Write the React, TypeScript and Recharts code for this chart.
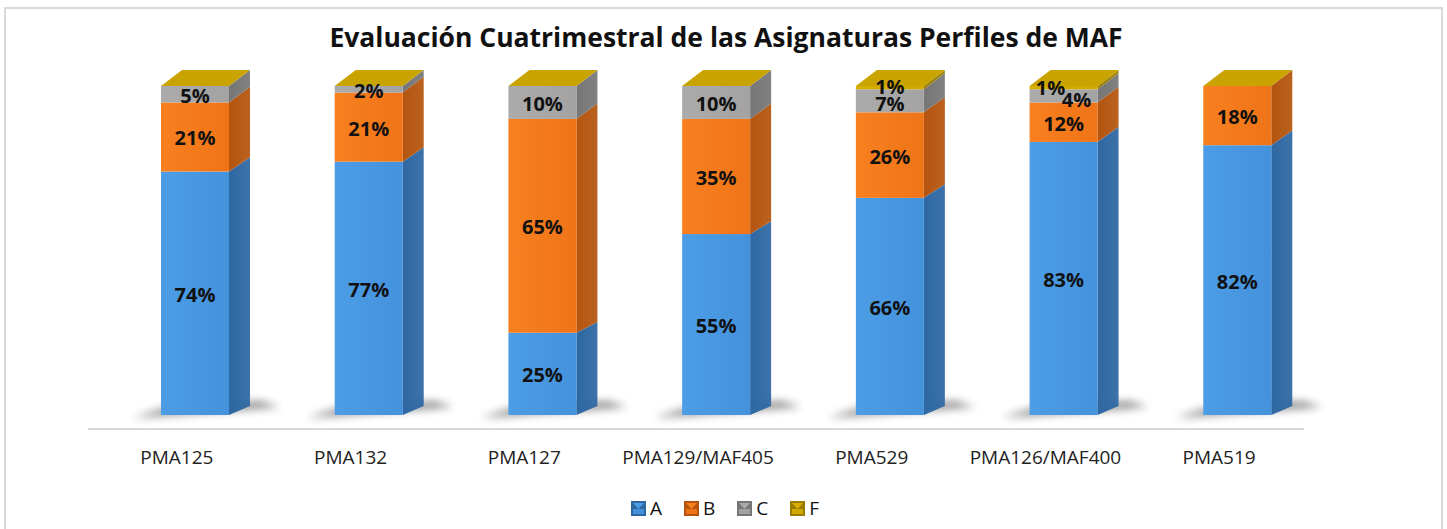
import React from 'react';
import { BarChart, Bar, XAxis, YAxis, LabelList } from 'recharts';

const categories = ['PMA125', 'PMA132', 'PMA127', 'PMA129/MAF405', 'PMA529', 'PMA126/MAF400', 'PMA519'];
const seriesA = [74, 77, 25, 55, 66, 83, 82];
const seriesB = [21, 21, 65, 35, 26, 12, 18];
const seriesC = [5, 2, 10, 10, 7, 4, 0];
const seriesF = [0, 0, 0, 0, 1, 1, 0];
const seriesNames = ['A', 'B', 'C', 'F'];
const seriesValues: Record<string, number[]> = { A: seriesA, B: seriesB, C: seriesC, F: seriesF };

const data = categories.map((c, i) => ({
  name: c,
  A: seriesA[i],
  B: seriesB[i],
  C: seriesC[i],
  F: seriesF[i],
}));

const COLORS: Record<string, { front: string; frontL: string; side: string; top: string }> = {
  A: { front: '#4592dc', frontL: '#4c9ce6', side: '#2d67a2', top: '#5aa5ea' },
  B: { front: '#ef7418', frontL: '#f8801f', side: '#b4540e', top: '#f99040' },
  C: { front: '#a3a3a3', frontL: '#ababab', side: '#767676', top: '#bdbdbd' },
  F: { front: '#d0a800', frontL: '#d8b000', side: '#9a7d00', top: '#c9a400' },
};

const DX = 21;
const BASE_Y = 415;
const depthY = (y: number) => -9 - 7 * Math.max(0, Math.min(1, (BASE_Y - y) / 329));

const isTopmost = (key: string, index: number) => {
  const pos = seriesNames.indexOf(key);
  for (let j = pos + 1; j < seriesNames.length; j++) {
    if (seriesValues[seriesNames[j]][index] > 0) return false;
  }
  return true;
};

const make3D = (key: string) => (props: any) => {
  const { x, y, width, height, index } = props;
  if (x == null || y == null) return null;
  const yTop = y;
  const yBot = y + (height || 0);
  const dTop = depthY(yTop);
  const dBot = depthY(yBot);
  const parts: React.ReactNode[] = [];
  if (key === 'A') {
    parts.push(
      <polygon
        key="sh"
        points={`${x - 28},${yBot + 3} ${x + width + DX + 30},${yBot - 8} ${x + width + DX + 10},${yBot - 14} ${x},${yBot - 6}`}
        fill="#000"
        opacity={0.45}
        filter="url(#shadowBlur)"
      />
    );
  }
  if (height > 0) {
    parts.push(
      <polygon
        key="side"
        points={`${x + width},${yTop} ${x + width + DX},${yTop + dTop} ${x + width + DX},${yBot + dBot} ${x + width},${yBot}`}
        fill={`url(#side-${key})`}
      />
    );
    parts.push(<rect key="front" x={x} y={yTop} width={width} height={height} fill={`url(#front-${key})`} />);
  }
  if (height > 0 && isTopmost(key, index)) {
    parts.push(
      <polygon
        key="top"
        points={`${x},${yTop} ${x + width},${yTop} ${x + width + DX},${yTop + dTop} ${x + DX},${yTop + dTop}`}
        fill={COLORS.F.top}
      />
    );
  }
  return <g>{parts}</g>;
};

const makeLabel = (key: string) => (props: any) => {
  const { x, y, width, height, value, index } = props;
  if (!value) return null;
  let dx = 0;
  let dy = 0;
  if (seriesF[index] > 0 && seriesC[index] < 5) {
    if (key === 'C') { dx = 13; dy = 3; }
    if (key === 'F') { dx = -13; dy = -1; }
  } else if (seriesF[index] > 0) {
    if (key === 'C') dy = 2;
    if (key === 'F') dy = -2;
  }
  return (
    <text
      x={x + width / 2 + dx}
      y={y + height / 2 + 1 + dy}
      textAnchor="middle"
      dominantBaseline="central"
      fontFamily="'Open Sans', sans-serif"
      fontWeight={700}
      fontSize={20}
      fill="#111"
    >
      {`${value}%`}
    </text>
  );
};

const Tick = (props: any) => {
  const { x, payload } = props;
  return (
    <text
      x={x - 18}
      y={457}
      textAnchor="middle"
      dominantBaseline="central"
      fontFamily="'Open Sans', sans-serif"
      fontSize={19}
      fill="#222"
    >
      {payload.value}
    </text>
  );
};

const LegendBox = () => (
  <div
    style={{
      position: 'absolute',
      top: 497,
      left: 631,
      height: 22,
      display: 'flex',
      alignItems: 'center',
      fontFamily: "'Open Sans', sans-serif",
      fontSize: 19,
      color: '#111',
    }}
  >
    {seriesNames.map((n) => (
      <div key={n} style={{ display: 'flex', alignItems: 'center', marginRight: 22 }}>
        <svg width={15} height={15} style={{ marginRight: 4 }}>
          <rect x={0} y={0} width={15} height={15} fill={COLORS[n].side} />
          <polygon points="2,2 13,2 7.5,8" fill={COLORS[n].frontL} />
          <rect x={2} y={8} width={11} height={5} fill={COLORS[n].front} />
        </svg>
        <span style={{ lineHeight: '22px' }}>{n}</span>
      </div>
    ))}
  </div>
);

export default function App() {
  return (
    <div style={{ position: 'absolute', left: 0, top: 0, width: 1447, height: 529, background: '#fff', overflow: 'hidden' }}>
      <div style={{ position: 'absolute', left: 4, top: 7, width: 1435, height: 530, border: '2px solid #d9d9d9' }} />
      <div
        style={{
          position: 'absolute',
          left: 0,
          top: 19,
          width: 1452,
          textAlign: 'center',
          fontFamily: "'Open Sans', sans-serif",
          fontWeight: 700,
          fontSize: 26.5,
          color: '#111',
          lineHeight: '36px',
        }}
      >
        Evaluación Cuatrimestral de las Asignaturas Perfiles de MAF
      </div>
      <div style={{ position: 'absolute', left: 88, top: 428, width: 1216, height: 2, background: '#d9d9d9' }} />
      <div style={{ position: 'absolute', left: 0, top: 0 }}>
        <BarChart width={1447} height={529} data={data} margin={{ top: 86, right: 123, bottom: 0, left: 108 }} barSize={68}>
          <defs>
            <filter id="shadowBlur" x="-50%" y="-200%" width="200%" height="500%">
              <feGaussianBlur stdDeviation="4" />
            </filter>
            {seriesNames.map((k) => (
              <linearGradient key={`f${k}`} id={`front-${k}`} x1="0" y1="0" x2="1" y2="0">
                <stop offset="0" stopColor={COLORS[k].frontL} />
                <stop offset="1" stopColor={COLORS[k].front} />
              </linearGradient>
            ))}
            {seriesNames.map((k) => (
              <linearGradient key={`s${k}`} id={`side-${k}`} x1="0" y1="0" x2="1" y2="0">
                <stop offset="0" stopColor={COLORS[k].side} />
                <stop offset="1" stopColor={COLORS[k].side} stopOpacity={0.92} />
              </linearGradient>
            ))}
          </defs>
          <XAxis dataKey="name" axisLine={false} tickLine={false} tick={<Tick />} interval={0} height={114} />
          <YAxis hide domain={[0, 100]} />
          {seriesNames.map((k) => (
            <Bar key={k} dataKey={k} stackId="s" fill={COLORS[k].front} shape={make3D(k)} isAnimationActive={false}>
              <LabelList dataKey={k} content={makeLabel(k)} />
            </Bar>
          ))}
        </BarChart>
      </div>
      <LegendBox />
    </div>
  );
}
